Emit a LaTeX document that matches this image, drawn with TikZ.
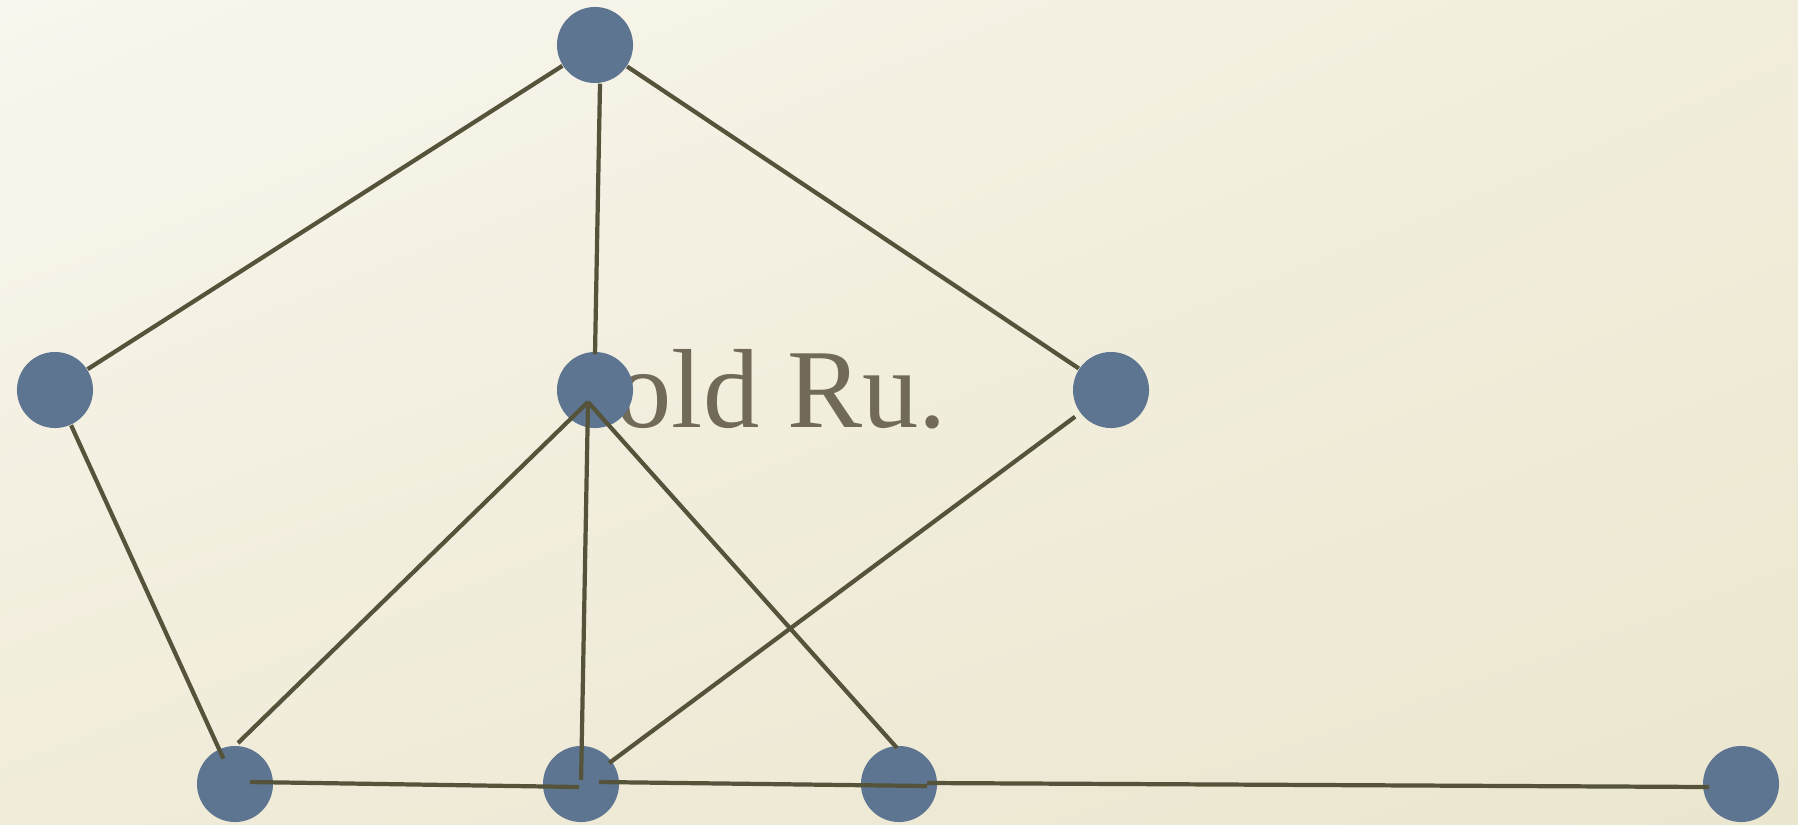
\documentclass[tikz,border=0pt]{standalone}
\usepackage{fontspec}
\setmainfont{Liberation Serif}
\usetikzlibrary{calc,shadings}
\definecolor{paperA}{HTML}{F8F6EE}
\definecolor{paperB}{HTML}{F2EEDC}
\definecolor{paperC}{HTML}{F1ECDA}
\definecolor{paperD}{HTML}{EBE6CE}
\definecolor{slate}{HTML}{5E7592}
\definecolor{olive}{HTML}{55533A}
\definecolor{txt}{HTML}{716A58}

\tikzset{
  vertex/.style={circle, fill=slate, minimum size=7.6mm, inner sep=0pt},
  link/.style={draw=olive, line width=1.2pt},
}

\begin{document}
\begin{tikzpicture}[x=0.01cm, y=-0.01cm]

% background
\shade[upper left=paperA, upper right=paperB, lower left=paperC, lower right=paperD]
  (0,0) rectangle (1798,824);
\useasboundingbox (0,0) rectangle (1798,824);

% label behind the middle vertex
\node[font=\fontsize{32}{38}\selectfont, text=txt, anchor=base west, inner sep=0pt] (title) at (615,427) {old Ru.};

% vertices
\node[vertex] (top) at (595,45) {};
\node[vertex] (left) at (55,390) {};
\node[vertex] (ctr) at (595,390) {};
\node[vertex] (rgt) at (1111,390) {};
\node[vertex] (b1) at (235,784) {};
\node[vertex] (b2) at (581,784) {};
\node[vertex] (b3) at (899,784) {};
\node[vertex] (b4) at (1741,784) {};

\coordinate (hub) at (588,402);
\coordinate (j3) at (927,786);

% edges
\draw[link] (top) -- (left);
\draw[link] ($(top.south)+(5,0)$) -- ($(ctr.north)+(0,3)$);
\draw[link] (top) -- (rgt);
\draw[link, shorten >=2.8mm] (left) -- (b1.center);
\draw[link] (hub) -- ($(b1)+(3,-41)$);
\draw[link, shorten >=0.4mm] (hub) -- (b2.center);
\draw[link] (hub) -- ($(b3)+(-2,-36)$);
\draw[link, shorten <=0.6mm, shorten >=3.5mm] (rgt) -- (b2.center);
\draw[link] ($(b1)+(15,-2)$) -- ($(b2)+(-2,3)$);
\draw[link] ($(b2)+(18,-2)$) -- (j3);
\draw[link] ($(j3)+(0,-3)$) -- ($(b4)+(-32,3)$);

\end{tikzpicture}
\end{document}
